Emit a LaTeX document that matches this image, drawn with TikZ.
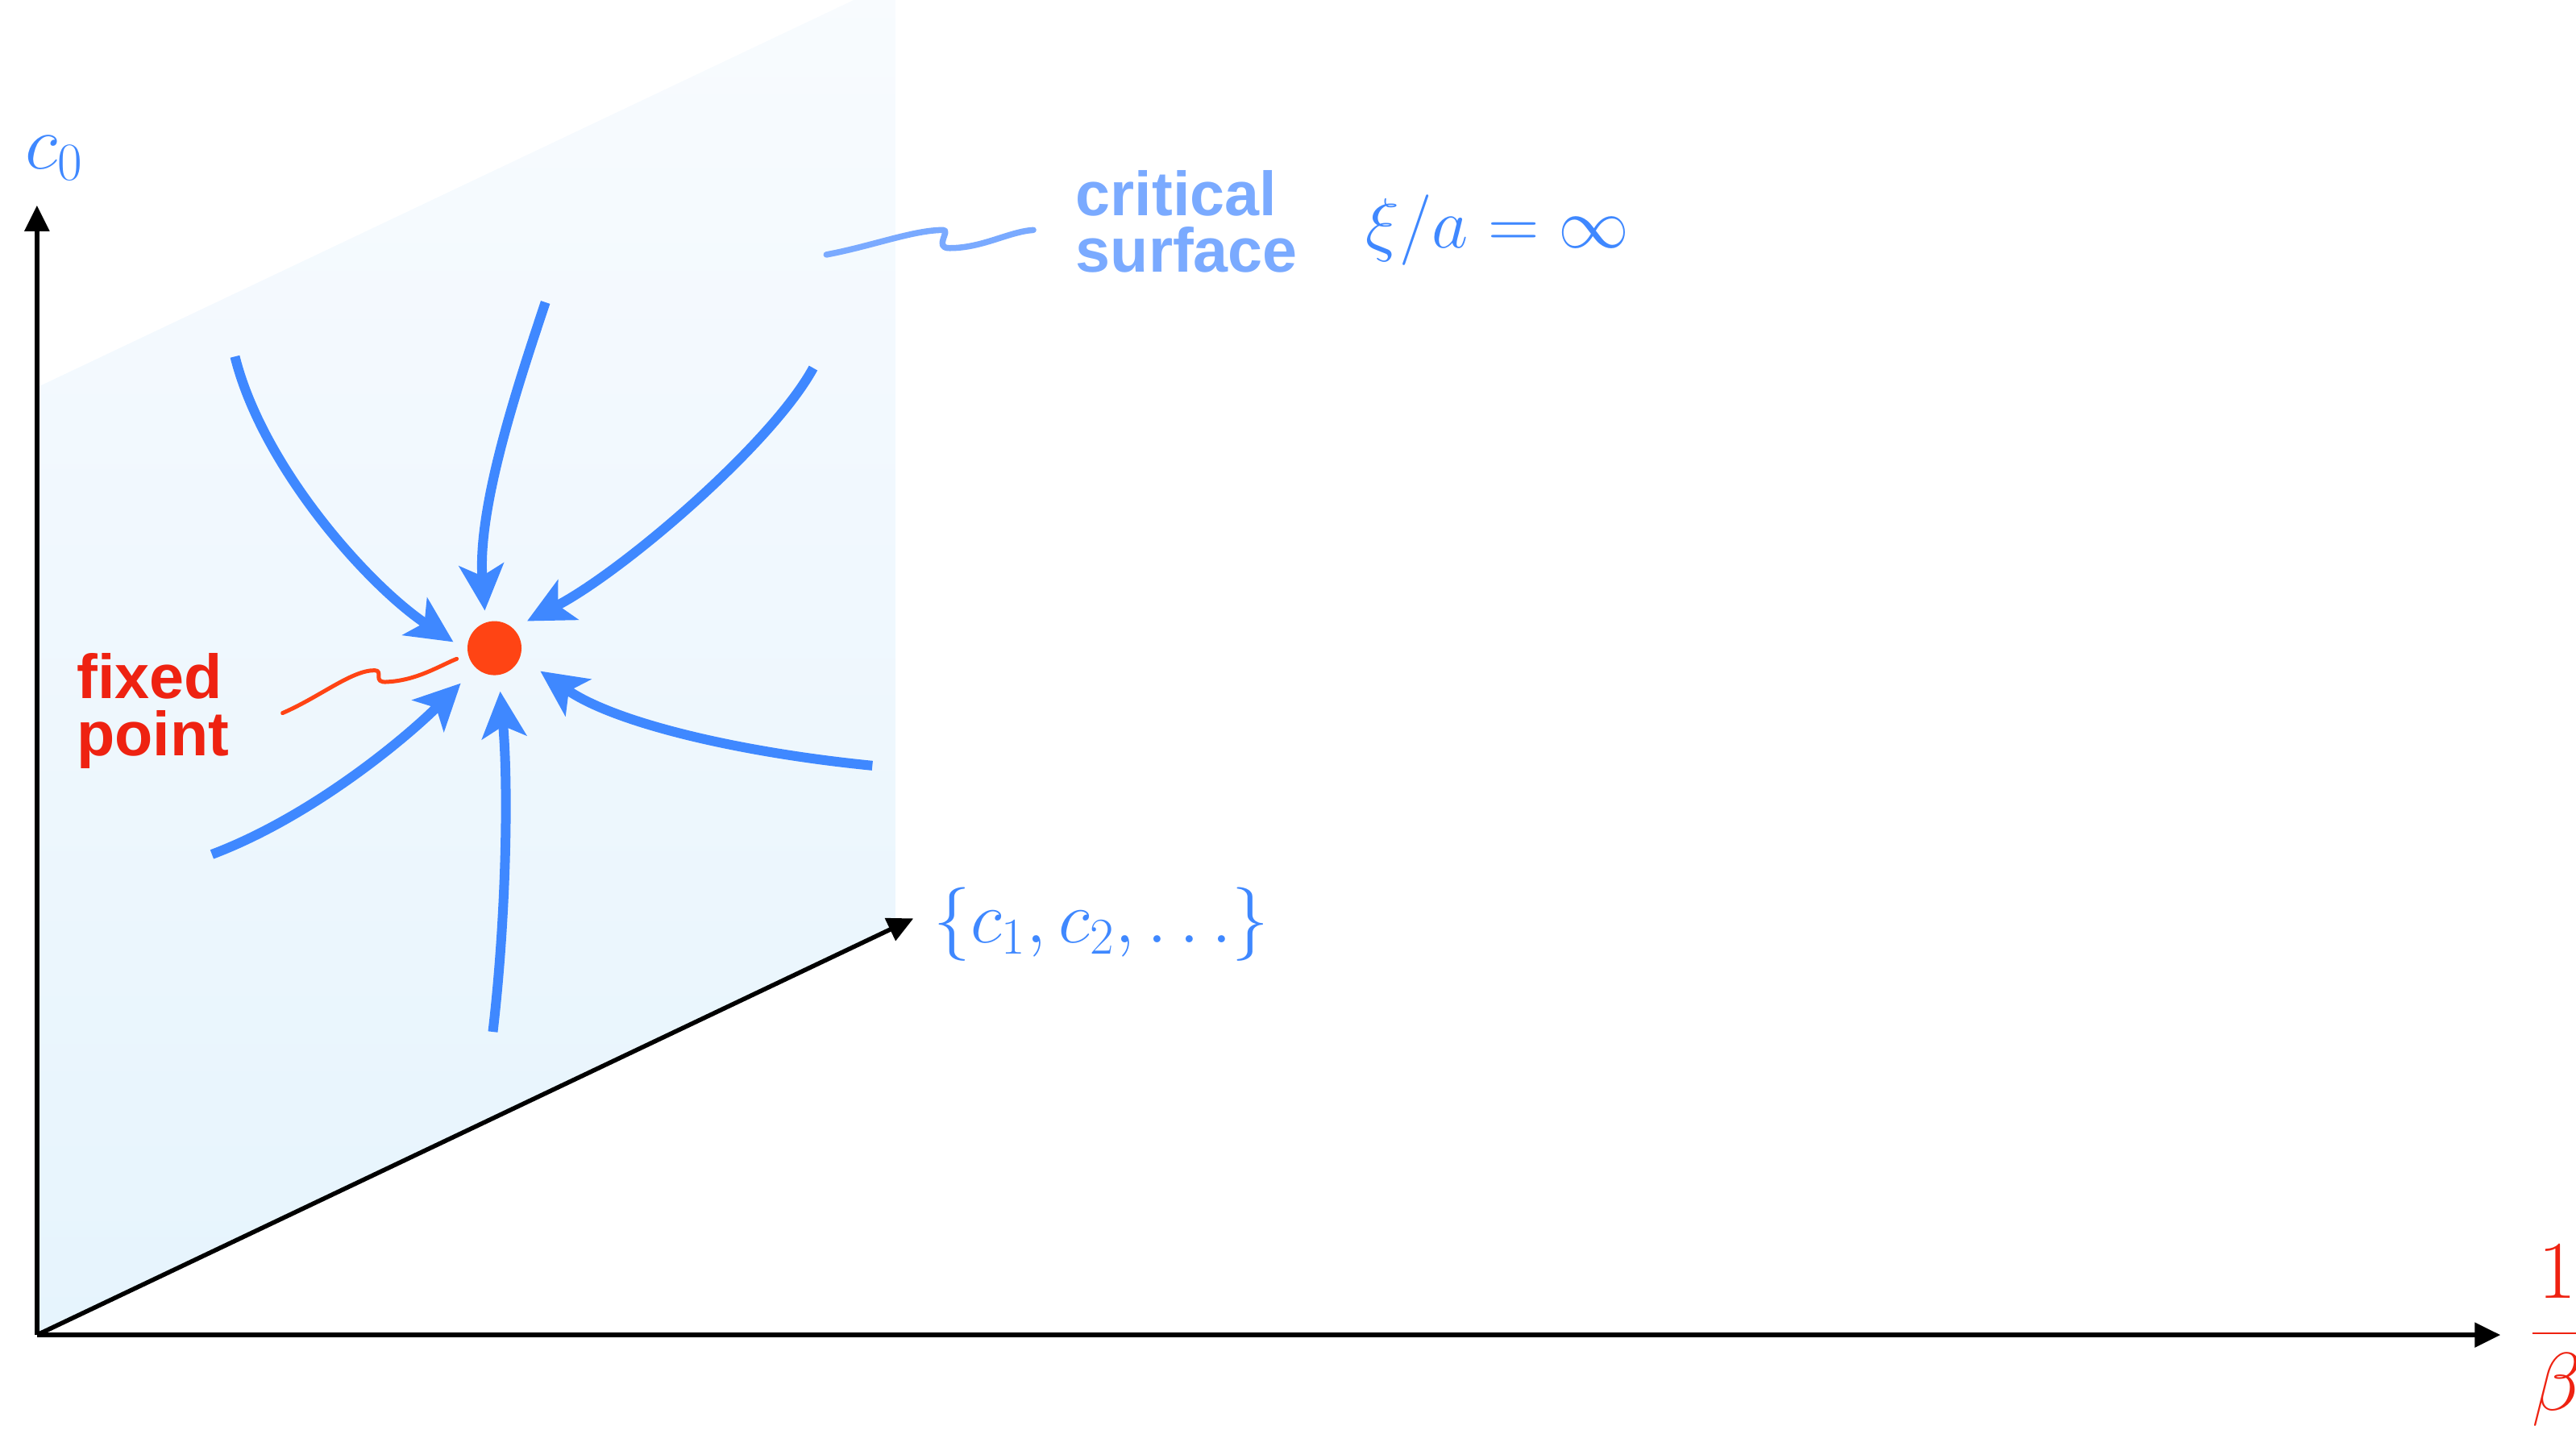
\RequirePackage{fix-cm}
\documentclass[tikz,border=0pt]{standalone}
\usepackage{fontspec}
\newfontfamily\labfont{Liberation Sans}
\usetikzlibrary{arrows.meta}
\definecolor{flowblue}{RGB}{63,136,255}
\definecolor{critblue}{RGB}{122,170,255}
\definecolor{fpred}{RGB}{238,34,17}
\definecolor{dotred}{RGB}{255,68,20}
\definecolor{planetop}{RGB}{248,251,254}
\definecolor{planebot}{RGB}{230,244,253}
\begin{document}
\begin{tikzpicture}[x=0.2038mm,y=-0.2038mm,
  axis/.style={line width=0.55mm,-{Triangle[length=3.2mm,width=3mm]}},
  flow/.style={flowblue,line width=1.2mm,-{Stealth[length=5.7mm,width=5.5mm,inset=1.4mm]}},
  boldlab/.style={anchor=north west,inner sep=0,align=left,font=\labfont\bfseries\fontsize{22pt}{20pt}\selectfont},
  mathlab/.style={anchor=base west,inner sep=0,text=flowblue},
  squig/.style={line cap=round,line join=round}]
\useasboundingbox (0,0) rectangle (1568,870);
\clip (0,0) rectangle (1568,870);
% critical surface plane
\shade[top color=planetop,bottom color=planebot] (22,812) -- (22,236) -- (545,-12) -- (545,565) -- cycle;
% axes
\coordinate (O) at (22.5,812.5);
\coordinate (ytip) at (22.5,125);
\coordinate (xtip) at (1522,812.5);
\coordinate (ztip) at (556,559);
\draw[axis] (O) -- (ytip);
\draw[axis] (O) -- (xtip);
\draw[axis] (O) -- (ztip);
% axis labels
\node[mathlab,font=\fontsize{27pt}{32pt}\selectfont] (c0) at (15,102.6) {$c_0$};
\node[mathlab,font=\fontsize{26pt}{31pt}\selectfont] (cs) at (568,574) {$\{c_1, c_2, \ldots\}$};
\node[anchor=base west,inner sep=0,text=fpred,font=\fontsize{29pt}{34pt}\selectfont] (beta) at (1539,824) {$\displaystyle\frac{1}{\beta}$};
\node[mathlab,font=\fontsize{25pt}{30pt}\selectfont] (xi) at (831,151) {$\xi/a=\infty$};
% labels
\node[boldlab,text=critblue] (crit) at (654.5,103.5) {critical\\surface};
\node[boldlab,text=fpred] (fplab) at (46.5,397.5) {fixed\\point};
% fixed point
\node[circle,fill=dotred,inner sep=0,outer sep=0,minimum size=6.7mm] (fp) at (301,394.5) {};
% label squiggles
\coordinate (cq1) at (503,155);
\coordinate (cq2) at (629,140);
\draw[squig,critblue,line width=0.75mm] (cq1) .. controls (530,150) and (556,140) .. (574,140)
  .. controls (579,140) and (568,151) .. (578,151) .. controls (598,151) and (614,141) .. (cq2);
\coordinate (fq1) at (172,434);
\coordinate (fq2) at (278,401);
\draw[squig,dotred,line width=0.5mm] (fq1) .. controls (195,424) and (214,408) .. (228,408)
  .. controls (234,408) and (226,416) .. (236,415) .. controls (254,414) and (268,405) .. (fq2);
% flows into the fixed point
\coordinate (s1) at (143,217);
\coordinate (s2) at (332,184);
\coordinate (s3) at (495,224);
\coordinate (s4) at (531,466);
\coordinate (s5) at (300,628);
\coordinate (s6) at (129,520);
\draw[flow,shorten >=2.13mm] (s1) .. controls (160,285) and (225,357) .. (fp.187);
\draw[flow,shorten >=1.49mm] (s2) .. controls (315,235) and (290.4,309) .. (fp.109);
\draw[flow,shorten >=1.98mm] (s3) .. controls (470,270) and (379,348) .. (fp.47);
\draw[flow,shorten >=3.07mm] (s4) .. controls (450,458) and (374,440) .. (fp.341);
\draw[flow,shorten >=2.06mm] (s5) .. controls (308,560) and (309.7,480.5) .. (fp.279);
\draw[flow,shorten >=2.69mm] (s6) .. controls (190,497) and (247.3,449) .. (fp.227);
\end{tikzpicture}
\end{document}
